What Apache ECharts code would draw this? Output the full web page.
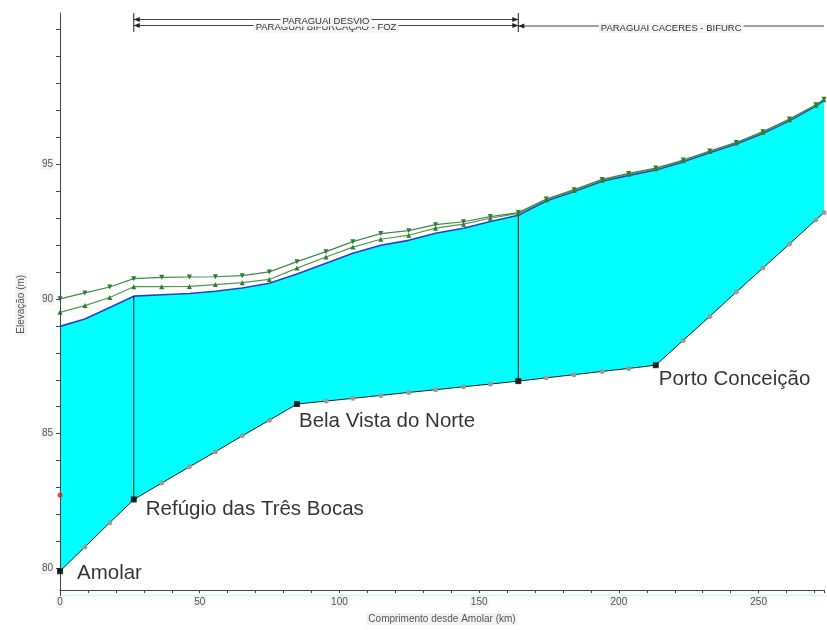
<!DOCTYPE html>
<html>
<head>
<meta charset="utf-8">
<script src="https://cdn.jsdelivr.net/npm/echarts@6/dist/echarts.min.js"></script>
<style>
  html, body { margin: 0; padding: 0; background: #ffffff; }
  #chart { width: 827px; height: 630px; }
</style>
</head>
<body>
<div id="chart"></div>
<script>
// Cross-section stations along the river (km downstream of Amolar)
const stationKm = [0, 8.9, 17.8, 26.4, 36.4, 46.3, 55.6, 65.2, 74.9, 84.8, 95.2, 104.8, 114.8, 124.8, 134.4, 144.4, 154, 164, 174, 184, 194, 203.5, 213.2, 223, 232.5, 242, 251.5, 261, 270.5, 273.4];
// Channel bed (thalweg) elevation at each station, m
const bedElev = [79.9, 80.8, 81.7, 82.56, 83.17, 83.77, 84.33, 84.92, 85.5, 86.1, 86.21, 86.31, 86.42, 86.53, 86.63, 86.74, 86.84, 86.95, 87.07, 87.19, 87.31, 87.42, 87.54, 88.46, 89.35, 90.25, 91.14, 92.03, 92.93, 93.2];
// Water surface profiles, m
const wsLow  = [88.98, 89.25, 89.68, 90.1, 90.15, 90.2, 90.28, 90.4, 90.58, 90.92, 91.32, 91.69, 91.99, 92.17, 92.43, 92.62, 92.87, 93.1, 93.63, 93.98, 94.36, 94.58, 94.78, 95.08, 95.42, 95.74, 96.13, 96.6, 97.15, 97.36];
const wsMid  = [89.5, 89.75, 90.05, 90.45, 90.45, 90.46, 90.53, 90.6, 90.72, 91.14, 91.55, 91.92, 92.21, 92.36, 92.62, 92.77, 92.99, 93.17, 93.67, 94.02, 94.4, 94.62, 94.82, 95.12, 95.46, 95.78, 96.17, 96.64, 97.18, 97.38];
const wsHigh = [90.0, 90.22, 90.44, 90.75, 90.8, 90.81, 90.82, 90.86, 91.0, 91.38, 91.75, 92.12, 92.42, 92.53, 92.75, 92.86, 93.05, 93.2, 93.7, 94.05, 94.43, 94.65, 94.85, 95.15, 95.48, 95.8, 96.2, 96.67, 97.2, 97.4];

// Named locations / junctions on the bed profile
const nodeKm    = [0, 26.4, 84.8, 164, 213.2];
const nodeNames = ['Amolar', 'Refúgio das Três Bocas', 'Bela Vista do Norte', '', 'Porto Conceição'];

// Reach boundaries (vertical section lines)
const boundaryKm = [26.4, 164];

// Observed level
const obsKm = [0];
const obsElev = [82.73];

// Reaches shown across the top
const reachNames = ['PARAGUAI DESVIO', 'PARAGUAI BIFURCAÇÃO - FOZ', 'PARAGUAI CACERES - BIFURC'];
const reachStart = [26.4, 26.4, 164];
const reachEnd   = [164, 164, 273.4];

// Axis tick labels
const xTickLabels = [0, 50, 100, 150, 200, 250];
const yTickLabels = [80, 85, 90, 95];

const X_MAX = 273.4;
const FONT = '"Liberation Sans", Arial, sans-serif';

const pts = ys => stationKm.map((k, i) => [k, ys[i]]);
const bedAt = k => bedElev[stationKm.indexOf(k)];
const wsAt = k => wsLow[stationKm.indexOf(k)];

// Label placement for the named points
const nodeLabelPos = [[20, 5], [15, 13], [5, 20], [0, 0], [6, 17]];

const chart = echarts.init(document.getElementById('chart'), null, { renderer: 'canvas' });

const series = [
  {
    name: 'water',
    type: 'line',
    data: pts(wsLow),
    symbol: 'none',
    lineStyle: { color: '#2b3fc4', width: 1.6 },
    areaStyle: { color: '#00ffff', opacity: 1, origin: 'start' },
    z: 2
  },
  {
    name: 'bed',
    type: 'line',
    data: pts(bedElev),
    symbol: 'circle',
    symbolSize: 5,
    showAllSymbol: true,
    itemStyle: { color: '#9a9a9a' },
    lineStyle: { color: '#222222', width: 1 },
    areaStyle: { color: '#ffffff', opacity: 1, origin: 'start' },
    z: 3
  }
];

boundaryKm.forEach(k => {
  series.push({
    type: 'line',
    data: [[k, bedAt(k)], [k, wsAt(k)]],
    symbol: 'none',
    lineStyle: { color: '#111111', width: 1 },
    z: 4
  });
});

series.push(
  {
    name: 'wsMid',
    type: 'line',
    data: pts(wsMid),
    symbol: 'triangle',
    symbolSize: 5,
    showAllSymbol: true,
    itemStyle: { color: '#2e7d32' },
    lineStyle: { color: '#4f9a4f', width: 1.2 },
    z: 5
  },
  {
    name: 'wsHigh',
    type: 'line',
    data: pts(wsHigh),
    symbol: 'triangle',
    symbolRotate: 180,
    symbolSize: 5,
    showAllSymbol: true,
    itemStyle: { color: '#2e7d32' },
    lineStyle: { color: '#3f8a4f', width: 1.2 },
    z: 5
  },
  {
    name: 'nodes',
    type: 'scatter',
    symbol: 'rect',
    symbolSize: 6,
    itemStyle: { color: '#000000' },
    data: nodeKm.map((k, i) => ({
      name: nodeNames[i],
      value: [k, bedAt(k)],
      label: {
        show: nodeNames[i] !== '',
        position: nodeLabelPos[i],
        align: 'left',
        verticalAlign: 'middle'
      }
    })),
    label: {
      formatter: '{b}',
      fontSize: 20.5,
      fontFamily: FONT,
      color: '#000000'
    },
    z: 9
  },
  {
    name: 'observed',
    type: 'scatter',
    symbol: 'circle',
    symbolSize: 5,
    itemStyle: { color: '#e01818' },
    data: obsKm.map((k, i) => [k, obsElev[i]]),
    z: 9
  }
);

const axisText = { fontSize: 10, fontFamily: FONT, color: '#555555' };

chart.setOption({
  animation: false,
  backgroundColor: '#ffffff',
  grid: { left: 60, right: 0, top: 13, bottom: 32.6, containLabel: false },
  xAxis: {
    type: 'value',
    min: 0,
    max: X_MAX,
    interval: 10,
    offset: -5.4,
    z: 8,
    axisLine: { show: true, lineStyle: { color: '#444444', width: 1 } },
    axisTick: { show: true, length: 3, lineStyle: { color: '#444444' } },
    splitLine: { show: false },
    axisLabel: {
      margin: 6,
      formatter: v => xTickLabels.includes(v) ? '{t|' + v + '}' : '',
      rich: { t: Object.assign({ backgroundColor: '#f3f3f3', padding: [1, 1] }, axisText) }
    },
    name: 'Comprimento desde Amolar (km)',
    nameLocation: 'middle',
    nameGap: 22,
    nameTextStyle: Object.assign({ color: '#333333', backgroundColor: '#f3f3f3', padding: [1, 2] }, axisText)
  },
  yAxis: {
    type: 'value',
    min: 79,
    max: 100.6,
    interval: 1,
    z: 8,
    axisLine: { show: true, lineStyle: { color: '#444444', width: 1 } },
    axisTick: { show: true, length: 4, lineStyle: { color: '#444444' } },
    splitLine: { show: false },
    axisLabel: {
      margin: 6,
      showMinLabel: false,
      showMaxLabel: false,
      formatter: v => yTickLabels.includes(v) ? '{t|' + v + '}' : '',
      rich: { t: Object.assign({ backgroundColor: '#f3f3f3', padding: [1, 1] }, axisText) }
    },
    name: 'Elevação (m)',
    nameLocation: 'middle',
    nameGap: 33,
    nameRotate: 90,
    nameTextStyle: Object.assign({ color: '#333333', backgroundColor: '#f3f3f3', padding: [1, 2] }, axisText)
  },
  series: series
});

// Reach annotations across the top of the plot
function reachGraphics() {
  const els = [];
  const rowY = [19.5, 25.5, 26];
  const xPix = k => Math.min(chart.convertToPixel({ xAxisIndex: 0 }, k), 827);
  const ink = '#222222';
  const texts = [];
  for (let i = 0; i < reachNames.length; i++) {
    const x0 = xPix(reachStart[i]);
    const x1 = xPix(reachEnd[i]);
    const y = rowY[i];
    els.push({ type: 'line', z: 10, shape: { x1: x0, y1: y, x2: x1, y2: y }, style: { stroke: '#444444', lineWidth: 1 } });
    els.push({ type: 'polygon', z: 10, shape: { points: [[x0, y], [x0 + 6, y - 2.5], [x0 + 6, y + 2.5]] }, style: { fill: ink } });
    if (reachEnd[i] < X_MAX) {
      els.push({ type: 'polygon', z: 10, shape: { points: [[x1, y], [x1 - 6, y - 2.5], [x1 - 6, y + 2.5]] }, style: { fill: ink } });
    }
    texts.push({
      type: 'text',
      z: 11 + (reachNames.length - i),
      x: (x0 + x1) / 2,
      y: y + 2,
      style: {
        text: reachNames[i],
        font: '9.5px ' + FONT,
        fill: '#333333',
        align: 'center',
        verticalAlign: 'middle',
        backgroundColor: '#f4f4f4',
        padding: [0, 2]
      }
    });
  }
  const bounds = Array.from(new Set(reachStart.concat(reachEnd))).filter(k => k < X_MAX);
  bounds.forEach(k => {
    const x = xPix(k);
    els.push({ type: 'line', z: 10, shape: { x1: x, y1: 13, x2: x, y2: 32 }, style: { stroke: ink, lineWidth: 1 } });
  });
  return els.concat(texts);
}

chart.setOption({ graphic: { elements: reachGraphics() } });
</script>
</body>
</html>
